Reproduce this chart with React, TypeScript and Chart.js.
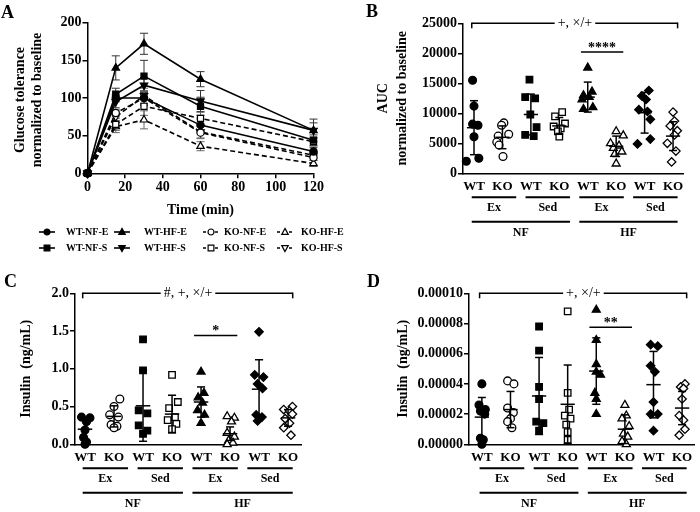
import React, { useEffect, useRef } from "react";
import { Chart, registerables } from "chart.js";

Chart.register(...registerables);

const SERIF = "'Liberation Serif', 'Times New Roman', Times, serif";

// ---------------- Panel A: glucose tolerance ----------------
const timeMin = [0, 15, 30, 60, 120];
const gttWtNfE = [0, 100, 100, 64, 29];
const gttWtNfS = [0, 105, 129, 89, 44];
const gttWtHfE = [0, 140, 172, 125, 57];
const gttWtHfS = [0, 95, 117, 96, 57];
const gttKoNfE = [0, 80, 100, 54, 21];
const gttKoNfS = [0, 65, 89, 73, 42];
const gttKoHfE = [0, 62, 71, 36, 13];
const gttKoHfS = [0, 75, 103, 55, 24];
const gttErrWtNfE = [0, 5, 8, 8, 5];
const gttErrWtNfS = [0, 8, 21, 12, 7];
const gttErrWtHfE = [0, 16, 14, 10, 15];
const gttErrWtHfS = [0, 8, 10, 14, 10];
const gttErrKoNfE = [0, 5, 10, 8, 4];
const gttErrKoNfS = [0, 8, 12, 8, 6];
const gttErrKoHfE = [0, 8, 12, 6, 4];
const gttErrKoHfS = [0, 8, 10, 8, 5];

type Shape = "circle" | "rect" | "triangle" | "rectRot";

const gttSeries = [
  { name: "WT-NF-E", data: gttWtNfE, err: gttErrWtNfE, shape: "circle" as Shape, filled: true, rot: 0, ko: false },
  { name: "WT-NF-S", data: gttWtNfS, err: gttErrWtNfS, shape: "rect" as Shape, filled: true, rot: 0, ko: false },
  { name: "WT-HF-E", data: gttWtHfE, err: gttErrWtHfE, shape: "triangle" as Shape, filled: true, rot: 0, ko: false },
  { name: "WT-HF-S", data: gttWtHfS, err: gttErrWtHfS, shape: "triangle" as Shape, filled: true, rot: 180, ko: false },
  { name: "KO-NF-E", data: gttKoNfE, err: gttErrKoNfE, shape: "circle" as Shape, filled: false, rot: 0, ko: true },
  { name: "KO-NF-S", data: gttKoNfS, err: gttErrKoNfS, shape: "rect" as Shape, filled: false, rot: 0, ko: true },
  { name: "KO-HF-E", data: gttKoHfE, err: gttErrKoHfE, shape: "triangle" as Shape, filled: false, rot: 0, ko: true },
  { name: "KO-HF-S", data: gttKoHfS, err: gttErrKoHfS, shape: "triangle" as Shape, filled: false, rot: 180, ko: true },
];
const legendOrder = ["WT-NF-E", "WT-HF-E", "KO-NF-E", "KO-HF-E", "WT-NF-S", "WT-HF-S", "KO-NF-S", "KO-HF-S"];

// ---------------- Shared categories for B, C, D ----------------
const genotypeLabels = ["WT", "KO", "WT", "KO", "WT", "KO", "WT", "KO"];
const exerciseLabels = ["Ex", "Sed", "Ex", "Sed"];
const dietLabels = ["NF", "HF"];
const groupShapes: Shape[] = ["circle", "circle", "rect", "rect", "triangle", "triangle", "rectRot", "rectRot"];
const groupFilled = [true, false, true, false, true, false, true, false];

// ---------------- Panel B: AUC ----------------
const aucWtNfEx = [15500, 11200, 8200, 8000, 6100, 2000, 2500];
const aucKoNfEx = [8400, 8000, 6500, 6200, 5200, 4700, 2800];
const aucWtNfSed = [15600, 12700, 12500, 9800, 7700, 6400, 6200];
const aucKoNfSed = [10200, 9500, 8300, 7800, 7500, 7000, 6100];
const aucWtHfEx = [17600, 13600, 13000, 12700, 12300, 11000, 10700];
const aucKoHfEx = [7000, 6300, 5000, 4600, 4200, 3600, 3200, 1600];
const aucWtHfSed = [13800, 12900, 12300, 10600, 10300, 9000, 5700, 4900];
const aucKoHfSed = [10200, 8700, 7900, 7100, 6400, 5000, 3700, 1900];
const aucMean = [7600, 6000, 9800, 7900, 12700, 4500, 10100, 6200];
const aucSd = [4500, 1900, 3400, 1400, 2500, 1700, 3400, 2400];
const aucJitter = [
  [-0.05, 0, -0.05, 0.14, 0, -0.27, 0.17],
  [0.05, -0.03, 0.22, -0.15, -0.2, -0.12, 0.02],
  [-0.05, -0.2, 0.15, -0.02, 0.2, -0.2, 0.1],
  [0.1, -0.15, 0.2, -0.2, 0.05, -0.05, 0.0],
  [0, 0.15, -0.15, 0.05, -0.2, 0.18, -0.15],
  [0.0, 0.25, -0.2, 0.1, -0.1, 0.2, -0.05, 0.0],
  [0.15, -0.1, 0.05, -0.2, 0.1, 0.2, 0.2, -0.25],
  [0.0, 0.05, -0.1, 0.15, 0.05, -0.2, 0.1, -0.05],
];

// ---------------- Panel C: insulin ----------------
const insWtNfEx = [0.36, 0.35, 0.3, 0.19, 0.09, 0.03, 0.0];
const insKoNfEx = [0.6, 0.5, 0.39, 0.36, 0.26, 0.24, 0.22];
const insWtNfSed = [1.39, 0.98, 0.45, 0.41, 0.25, 0.18, 0.14];
const insKoNfSed = [0.92, 0.56, 0.48, 0.36, 0.32, 0.27, 0.2];
const insWtHfEx = [0.96, 0.68, 0.62, 0.55, 0.45, 0.39, 0.28];
const insKoHfEx = [0.37, 0.35, 0.3, 0.15, 0.1, 0.05, 0.02, 0.0];
const insWtHfSed = [1.49, 0.92, 0.89, 0.8, 0.74, 0.39, 0.36, 0.31];
const insKoHfSed = [0.5, 0.46, 0.44, 0.4, 0.34, 0.28, 0.22, 0.12];
const insMean = [0.2, 0.37, 0.51, 0.4, 0.56, 0.14, 0.73, 0.35];
const insSd = [0.14, 0.14, 0.47, 0.25, 0.2, 0.09, 0.39, 0.11];
const insJitter = [
  [-0.12, 0.17, 0.05, 0, -0.05, 0.05, 0],
  [0.2, 0.0, -0.15, 0.15, -0.1, 0.1, 0.0],
  [0.0, 0.0, -0.15, 0.15, -0.15, 0.15, 0.0],
  [0.0, 0.2, -0.1, 0.1, -0.15, 0.15, 0.0],
  [0.0, 0.1, -0.1, 0.05, -0.12, 0.12, 0.0],
  [-0.1, 0.15, 0.05, -0.1, 0.15, -0.05, 0.1, -0.1],
  [0.0, -0.15, 0.15, -0.05, 0.12, -0.1, 0.1, -0.05],
  [0.15, -0.15, 0.05, 0.15, -0.1, 0.05, -0.15, 0.1],
];

// ---------------- Panel D: insulin ----------------
const insDWtNfEx = [4.0e-5, 2.6e-5, 2.3e-5, 2.2e-5, 2.0e-5, 0.4e-5, 0.3e-5, 0.0];
const insDKoNfEx = [4.2e-5, 4.0e-5, 2.4e-5, 2.1e-5, 1.7e-5, 1.5e-5, 1.1e-5];
const insDWtNfSed = [7.8e-5, 6.2e-5, 3.8e-5, 3.0e-5, 1.5e-5, 1.4e-5, 0.9e-5];
const insDKoNfSed = [8.8e-5, 3.4e-5, 2.3e-5, 1.9e-5, 1.7e-5, 1.3e-5, 0.8e-5, 0.3e-5];
const insDWtHfEx = [8.9e-5, 6.9e-5, 5.3e-5, 4.8e-5, 4.6e-5, 3.4e-5, 3.0e-5, 2.0e-5];
const insDKoHfEx = [2.6e-5, 1.9e-5, 1.7e-5, 1.2e-5, 0.7e-5, 0.5e-5, 0.2e-5, 0.0];
const insDWtHfSed = [6.6e-5, 6.5e-5, 5.2e-5, 4.8e-5, 2.8e-5, 2.0e-5, 2.0e-5, 0.9e-5];
const insDKoHfSed = [4.0e-5, 3.8e-5, 3.7e-5, 3.0e-5, 1.9e-5, 1.6e-5, 1.0e-5, 0.6e-5];
const insDMean = [1.8e-5, 2.3e-5, 3.2e-5, 2.65e-5, 4.85e-5, 1.0e-5, 3.95e-5, 2.4e-5];
const insDSd = [1.3e-5, 1.2e-5, 2.55e-5, 2.6e-5, 2.2e-5, 0.95e-5, 2.2e-5, 1.1e-5];
const insDJitter = [
  [0.0, -0.1, 0.12, -0.05, 0.1, -0.05, 0.05, 0.0],
  [-0.1, 0.12, -0.1, 0.1, 0.0, -0.1, 0.05],
  [0.0, 0.0, 0.0, 0.0, -0.1, 0.15, 0.0],
  [0.0, 0.0, 0.05, -0.1, 0.1, -0.05, 0.0, 0.0],
  [0.0, 0.0, 0.0, 0.0, 0.15, -0.05, 0.0, 0.0],
  [0.0, 0.05, -0.1, 0.15, -0.05, 0.1, -0.1, 0.05],
  [-0.1, 0.15, -0.1, 0.05, 0.0, -0.1, 0.15, 0.0],
  [0.1, -0.05, 0.05, 0.0, -0.1, 0.05, 0.1, -0.1],
];

// ---------------- helpers ----------------
function drawMarker(ctx: CanvasRenderingContext2D, shape: Shape, x: number, y: number, r: number, filled: boolean, rot = 0) {
  ctx.save();
  ctx.translate(x, y);
  ctx.rotate((rot * Math.PI) / 180);
  ctx.beginPath();
  if (shape === "circle") ctx.arc(0, 0, r, 0, Math.PI * 2);
  else if (shape === "rect") ctx.rect(-r * 0.8, -r * 0.8, r * 1.6, r * 1.6);
  else if (shape === "triangle") {
    ctx.moveTo(0, -r);
    ctx.lineTo(r * 0.9, r * 0.65);
    ctx.lineTo(-r * 0.9, r * 0.65);
    ctx.closePath();
  } else {
    ctx.moveTo(0, -r);
    ctx.lineTo(r, 0);
    ctx.lineTo(0, r);
    ctx.lineTo(-r, 0);
    ctx.closePath();
  }
  ctx.fillStyle = filled ? "#000" : "#fff";
  ctx.fill();
  ctx.lineWidth = 1.2;
  ctx.strokeStyle = "#000";
  ctx.stroke();
  ctx.restore();
}

function drawText(ctx: CanvasRenderingContext2D, text: string, x: number, y: number, font: string, align: CanvasTextAlign = "center", rot = 0) {
  ctx.save();
  ctx.translate(x, y);
  ctx.rotate(rot);
  ctx.font = font;
  ctx.fillStyle = "#000";
  ctx.textAlign = align;
  ctx.textBaseline = "middle";
  ctx.fillText(text, 0, 0);
  ctx.restore();
}

function line(ctx: CanvasRenderingContext2D, x1: number, y1: number, x2: number, y2: number, w = 1.5, color = "#000") {
  ctx.save();
  ctx.beginPath();
  ctx.moveTo(x1, y1);
  ctx.lineTo(x2, y2);
  ctx.lineWidth = w;
  ctx.strokeStyle = color;
  ctx.stroke();
  ctx.restore();
}

const W = 350;
const H = 256;
const numFont = { family: SERIF, size: 14, weight: "bold" as const };
const catFont = { family: SERIF, size: 13, weight: "bold" as const };
const radiusFor = (s: Shape) => (s === "circle" ? 3.9 : s === "rect" ? 4.6 : s === "triangle" ? 4.6 : 4.2);

function yAxisOpts(min: number, max: number, step: number, width: number, fmt: (v: number) => string) {
  return {
    type: "linear" as const,
    min,
    max,
    afterFit: (s: any) => {
      s.width = width;
    },
    ticks: { stepSize: step, color: "#000", font: numFont, padding: 1, callback: (v: any) => fmt(Number(v)) },
    grid: { display: true, drawOnChartArea: false, drawTicks: true, tickLength: 5, color: "#000", lineWidth: 1.5 },
    border: { display: true, color: "#000", width: 1.5 },
  };
}

// ---------------- Panel A chart ----------------
function makeA(canvas: HTMLCanvasElement) {
  const area = { left: 87.5, top: 22.7, right: 313.5, bottom: 173.3 };
  const XH = 20;
  const plugin = {
    id: "gttExtras",
    beforeDatasetsDraw(chart: any) {
      const { ctx } = chart;
      const xs = chart.scales.x;
      const ys = chart.scales.y;
      gttSeries.forEach((s) => {
        s.data.forEach((v, i) => {
          const e = s.err[i];
          if (!e) return;
          const x = xs.getPixelForValue(timeMin[i]);
          const y1 = ys.getPixelForValue(v + e);
          const y2 = ys.getPixelForValue(v - e);
          const col = s.ko ? "#666" : "#333";
          line(ctx, x, y1, x, y2, 1, col);
          line(ctx, x - 4, y1, x + 4, y1, 1, col);
          line(ctx, x - 4, y2, x + 4, y2, 1, col);
        });
      });
    },
    afterDraw(chart: any) {
      const { ctx, chartArea } = chart;
      const bold = (n: number) => `bold ${n}px ${SERIF}`;
      drawText(ctx, "Time (min)", (chartArea.left + chartArea.right) / 2, 210, bold(14));
      const cy = (chartArea.top + chartArea.bottom) / 2 + 2;
      drawText(ctx, "Glucose tolerance", 20, cy, bold(14), "center", -Math.PI / 2);
      drawText(ctx, "normalized to baseline", 37, cy, bold(14), "center", -Math.PI / 2);
      // legend
      const symX = [47, 122, 211, 285];
      const txtX = [66, 144, 224, 301];
      const rowY = [232, 248];
      legendOrder.forEach((name, k) => {
        const s = gttSeries.find((q) => q.name === name)!;
        const col = k % 4;
        const row = Math.floor(k / 4);
        const x = symX[col];
        const y = rowY[row];
        ctx.save();
        ctx.beginPath();
        ctx.setLineDash(s.ko ? [3, 3] : []);
        ctx.moveTo(x - 8, y);
        ctx.lineTo(x + 8, y);
        ctx.lineWidth = 1.6;
        ctx.strokeStyle = "#000";
        ctx.stroke();
        ctx.restore();
        drawMarker(ctx, s.shape, x, y, s.shape === "circle" ? 3 : 3.6, s.filled, s.rot);
        drawText(ctx, s.name, txtX[col], y, bold(10), "left");
      });
    },
  };
  return new Chart(canvas, {
    type: "line",
    data: {
      datasets: gttSeries.map((s) => ({
        label: s.name,
        data: timeMin.map((t, i) => ({ x: t, y: s.data[i] })),
        borderColor: "#000",
        borderWidth: 1.6,
        borderDash: s.ko ? [5, 3] : [],
        pointStyle: s.shape,
        pointRotation: s.rot,
        pointRadius: s.shape === "circle" ? 3.6 : 4.3,
        pointBackgroundColor: s.filled ? "#000" : "#fff",
        pointBorderColor: "#000",
        pointBorderWidth: 1.2,
        tension: 0,
        clip: false as any,
      })),
    },
    options: {
      responsive: false,
      animation: false,
      events: [],
      layout: { padding: { left: 0, top: area.top, right: W - area.right, bottom: H - area.bottom - XH } },
      plugins: { legend: { display: false }, tooltip: { enabled: false } },
      scales: {
        x: {
          type: "linear",
          min: 0,
          max: 120,
          afterFit: (s: any) => {
            s.height = XH;
          },
          ticks: { stepSize: 20, color: "#000", font: numFont, padding: 1 },
          grid: { display: true, drawOnChartArea: false, drawTicks: true, tickLength: 5, color: "#000", lineWidth: 1.5 },
          border: { display: true, color: "#000", width: 1.5 },
        },
        y: yAxisOpts(0, 200, 50, area.left, (v) => String(v)),
      },
    },
    plugins: [plugin],
  } as any);
}

// ---------------- Dot-plot panels ----------------
interface DotCfg {
  groups: number[][];
  jitter: number[][];
  mean: number[];
  sd: number[];
  yMin: number;
  yMax: number;
  yStep: number;
  fmt: (v: number) => string;
  area: { left: number; top: number; right: number; bottom: number };
  xMin: number;
  xMax: number;
  yTitle: string[];
  yTitleX: number[];
  bracketText: string;
  sigText: string;
  sigY: number;
}

function makeDot(canvas: HTMLCanvasElement, cfg: DotCfg) {
  const XH = 22;
  const area = cfg.area;
  const plugin = {
    id: "dotExtras",
    afterDatasetsDraw(chart: any) {
      const { ctx } = chart;
      const xs = chart.scales.x;
      const ys = chart.scales.y;
      const unit = xs.getPixelForValue(1) - xs.getPixelForValue(0);
      cfg.mean.forEach((m, g) => {
        const x = xs.getPixelForValue(g);
        const yM = ys.getPixelForValue(m);
        const yT = ys.getPixelForValue(m + cfg.sd[g]);
        const yB = ys.getPixelForValue(Math.max(cfg.yMin, m - cfg.sd[g]));
        line(ctx, x - unit * 0.25, yM, x + unit * 0.25, yM, 1.5);
        line(ctx, x, yT, x, yB, 1.5);
        line(ctx, x - unit * 0.14, yT, x + unit * 0.14, yT, 1.5);
        line(ctx, x - unit * 0.14, yB, x + unit * 0.14, yB, 1.5);
      });
    },
    afterDraw(chart: any) {
      const { ctx, chartArea } = chart;
      const xs = chart.scales.x;
      const ys = chart.scales.y;
      const bold = (n: number) => `bold ${n}px ${SERIF}`;
      const reg = (n: number) => `${n}px ${SERIF}`;
      // y title
      const cy = (chartArea.top + chartArea.bottom) / 2;
      cfg.yTitle.forEach((t, i) => drawText(ctx, t, cfg.yTitleX[i], cy, bold(14), "center", -Math.PI / 2));
      // top bracket
      const bx1 = xs.getPixelForValue(-0.08);
      const bx2 = xs.getPixelForValue(7.16);
      const by = ys.getPixelForValue(cfg.yMax);
      ctx.font = reg(14);
      const tw = ctx.measureText(cfg.bracketText).width;
      const bc = xs.getPixelForValue(3.55);
      line(ctx, bx1, by, bc - tw / 2 - 3, by, 1.5);
      line(ctx, bc + tw / 2 + 3, by, bx2, by, 1.5);
      line(ctx, bx1, by - 0.75, bx1, by + 5, 1.5);
      line(ctx, bx2, by - 0.75, bx2, by + 5, 1.5);
      drawText(ctx, cfg.bracketText, bc, by, reg(14));
      // significance
      const sy = ys.getPixelForValue(cfg.sigY);
      const sx1 = xs.getPixelForValue(3.76);
      const sx2 = xs.getPixelForValue(5.25);
      line(ctx, sx1, sy, sx2, sy, 1.5);
      drawText(ctx, cfg.sigText, (sx1 + sx2) / 2, sy - 4, bold(14));
      // grouping lines below the axis
      const base = chartArea.bottom;
      const segW = (bx2 - bx1) / (4 + 3 * 0.21);
      const gap = segW * 0.21;
      for (let p = 0; p < 4; p++) {
        const a = bx1 + p * (segW + gap);
        line(ctx, a, base + 24, a + segW, base + 24, 2);
        drawText(ctx, exerciseLabels[p], a + segW / 2, base + 35, bold(12));
      }
      for (let d = 0; d < 2; d++) {
        const a = bx1 + 2 * d * (segW + gap);
        const b = a + 2 * segW + gap;
        line(ctx, a, base + 48.5, b, base + 48.5, 2);
        drawText(ctx, dietLabels[d], (a + b) / 2, base + 59.5, bold(12));
      }
    },
  };
  return new Chart(canvas, {
    type: "scatter",
    data: {
      datasets: cfg.groups.map((vals, g) => ({
        data: vals.map((v, k) => ({ x: g + cfg.jitter[g][k], y: v })),
        pointStyle: groupShapes[g],
        pointRadius: radiusFor(groupShapes[g]),
        pointBackgroundColor: groupFilled[g] ? "#000" : "#fff",
        pointBorderColor: "#000",
        pointBorderWidth: 1.3,
        showLine: false,
        clip: false as any,
      })),
    },
    options: {
      responsive: false,
      animation: false,
      events: [],
      layout: { padding: { left: 0, top: area.top, right: W - area.right, bottom: H - area.bottom - XH } },
      plugins: { legend: { display: false }, tooltip: { enabled: false } },
      scales: {
        x: {
          type: "linear",
          min: cfg.xMin,
          max: cfg.xMax,
          afterFit: (s: any) => {
            s.height = XH;
          },
          afterBuildTicks: (s: any) => {
            s.ticks = genotypeLabels.map((_, i) => ({ value: i }));
          },
          ticks: { color: "#000", font: catFont, padding: 6, autoSkip: false, maxRotation: 0, callback: (v: any) => genotypeLabels[Number(v)] ?? "" },
          grid: { display: false, drawTicks: false },
          border: { display: true, color: "#000", width: 1.5 },
        },
        y: yAxisOpts(cfg.yMin, cfg.yMax, cfg.yStep, area.left, cfg.fmt),
      },
    },
    plugins: [plugin],
  } as any);
}

const panelB: DotCfg = {
  groups: [aucWtNfEx, aucKoNfEx, aucWtNfSed, aucKoNfSed, aucWtHfEx, aucKoHfEx, aucWtHfSed, aucKoHfSed],
  jitter: aucJitter,
  mean: aucMean,
  sd: aucSd,
  yMin: 0,
  yMax: 25000,
  yStep: 5000,
  fmt: (v) => String(v),
  area: { left: 113, top: 23.3, right: 333, bottom: 173.3 },
  xMin: -0.387,
  xMax: 7.35,
  yTitle: ["AUC", "normalized to baseline"],
  yTitleX: [33, 52],
  bracketText: "+, \u00d7/+",
  sigText: "****",
  sigY: 20200,
};

const panelC: DotCfg = {
  groups: [insWtNfEx, insKoNfEx, insWtNfSed, insKoNfSed, insWtHfEx, insKoHfEx, insWtHfSed, insKoHfSed],
  jitter: insJitter,
  mean: insMean,
  sd: insSd,
  yMin: 0,
  yMax: 2.0,
  yStep: 0.5,
  fmt: (v) => v.toFixed(1),
  area: { left: 75, top: 37.3, right: 301.7, bottom: 188.3 },
  xMin: -0.345,
  xMax: 7.47,
  yTitle: ["Insulin  (ng/mL)"],
  yTitleX: [26],
  bracketText: "#, +, \u00d7/+",
  sigText: "*",
  sigY: 1.44,
};

const panelD: DotCfg = {
  groups: [insDWtNfEx, insDKoNfEx, insDWtNfSed, insDKoNfSed, insDWtHfEx, insDKoHfEx, insDWtHfSed, insDKoHfSed],
  jitter: insDJitter,
  mean: insDMean,
  sd: insDSd,
  yMin: 0,
  yMax: 0.0001,
  yStep: 0.00002,
  fmt: (v) => v.toFixed(5),
  area: { left: 119, top: 37.3, right: 345, bottom: 188.3 },
  xMin: -0.45,
  xMax: 7.42,
  yTitle: ["Insulin  (ng/mL)"],
  yTitleX: [53],
  bracketText: "+, \u00d7/+",
  sigText: "**",
  sigY: 7.75e-5,
};

const letterStyle = (left: number, top: number): React.CSSProperties => ({
  position: "absolute",
  left,
  top,
  fontFamily: SERIF,
  fontWeight: "bold",
  fontSize: 18,
  lineHeight: "18px",
  color: "#000",
});

const canvasStyle = (left: number, top: number): React.CSSProperties => ({
  position: "absolute",
  left,
  top,
  width: W,
  height: H,
  display: "block",
});

export default function App() {
  const refA = useRef<HTMLCanvasElement>(null);
  const refB = useRef<HTMLCanvasElement>(null);
  const refC = useRef<HTMLCanvasElement>(null);
  const refD = useRef<HTMLCanvasElement>(null);

  useEffect(() => {
    const charts = [
      makeA(refA.current!),
      makeDot(refB.current!, panelB),
      makeDot(refC.current!, panelC),
      makeDot(refD.current!, panelD),
    ];
    return () => charts.forEach((c) => c.destroy());
  }, []);

  return (
    <div style={{ position: "absolute", left: 0, top: 0, width: 700, height: 512, background: "#fff", overflow: "hidden" }}>
      <canvas ref={refA} width={W} height={H} style={canvasStyle(0, 0)} />
      <canvas ref={refB} width={W} height={H} style={canvasStyle(350, 0)} />
      <canvas ref={refC} width={W} height={H} style={canvasStyle(0, 256)} />
      <canvas ref={refD} width={W} height={H} style={canvasStyle(350, 256)} />
      <div style={letterStyle(1, 3)}>A</div>
      <div style={letterStyle(366, 2)}>B</div>
      <div style={letterStyle(4, 272)}>C</div>
      <div style={letterStyle(367, 272)}>D</div>
    </div>
  );
}
